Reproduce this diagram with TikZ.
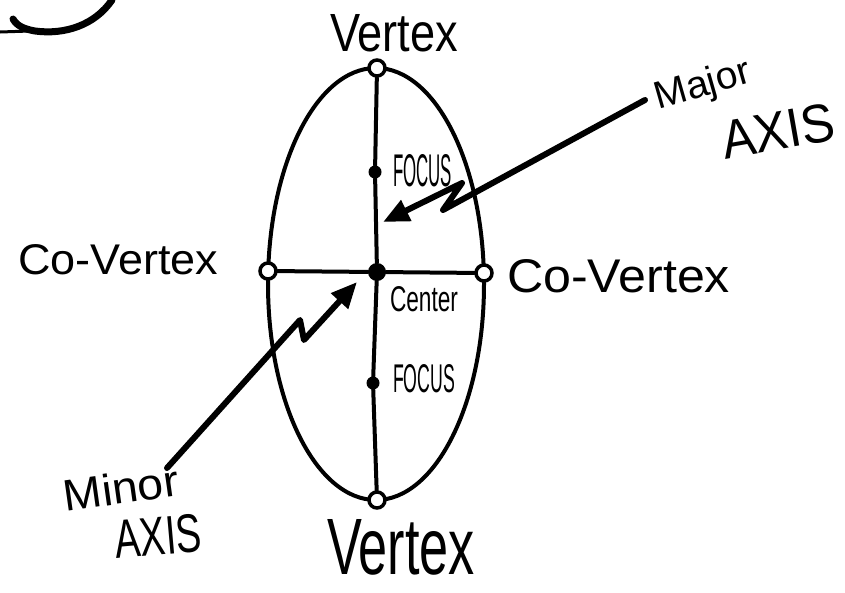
\documentclass[tikz,border=0pt]{standalone}
\usepackage{fontspec}
\setmainfont{Liberation Sans}
\usepackage{graphicx}
\usetikzlibrary{arrows.meta}
\newcommand{\hwt}[3]{\resizebox{#1pt}{#2pt}{#3}}
\begin{document}
\begin{tikzpicture}[x=1pt,y=-1pt,
  lbl/.style={inner sep=0pt, outer sep=0pt},
  ink/.style={line width=4pt, line cap=round, line join=round},
  pointer/.style={line width=6pt, line cap=round, line join=round, -{Triangle[length=26pt,width=22pt]}},
  vdot/.style={circle, draw, line width=3.5pt, fill=white, minimum size=16pt, inner sep=0pt},
  fdot/.style={circle, fill, minimum size=13pt, inner sep=0pt},
  cdot/.style={circle, fill, minimum size=18pt, inner sep=0pt}]
\useasboundingbox (0,0) rectangle (845,592);
% stray stroke top-left
\draw[line width=7pt, line cap=round] (13,19) .. controls (17,26) and (24,29) .. (35,31) .. controls (65,35) and (95,25) .. (112,0);
\draw[line width=3pt] (0,32) -- (30,31);
% ellipse
\draw[ink] (376,284) ellipse [x radius=108pt, y radius=216pt];
% points
\node[vdot] (vt) at (377,68) {};
\node[vdot] (vb) at (377,500) {};
\node[vdot] (cl) at (268,271) {};
\node[vdot] (cr) at (484,273) {};
\node[cdot] (c) at (377,272) {};
\node[fdot] (f1) at (375,172) {};
\node[fdot] (f2) at (373,383) {};
% axes
\draw[ink] (vt) -- (f1) -- (c) -- (f2) -- (vb);
\draw[ink] (cl) -- (c) -- (cr);
% labels
\node[lbl, anchor=south west] (tvt) at (330,52) {\hwt{128}{37}{Vertex}};
\node[lbl, anchor=south west] (tvb) at (327,575) {\hwt{148}{55}{Vertex}};
\node[lbl, anchor=south west] (tcl) at (18,275) {\hwt{200}{30}{Co-Vertex}};
\node[lbl, anchor=south west] (tcr) at (507,293) {\hwt{223}{33}{Co-Vertex}};
\node[lbl, anchor=south west] (tf1) at (393,187) {\hwt{59}{32}{FOCUS}};
\node[lbl, anchor=south west] (tf2) at (393,393) {\hwt{62}{28}{FOCUS}};
\node[lbl, anchor=south west] (tc) at (390,312) {\hwt{68}{25}{Center}};
\node[lbl, rotate=16] (tmaj) at (703,86) {\hwt{98}{28}{Major}};
\node[lbl, rotate=10] (tmaja) at (778,131) {\hwt{114}{38}{AXIS}};
\node[lbl, rotate=8] (tmin) at (121,488) {\hwt{116}{32}{Minor}};
\node[lbl, rotate=5] (tmina) at (158,536) {\hwt{87}{38}{AXIS}};
% pointer arrows
\coordinate (ma0) at (645,100);
\coordinate (ma1) at (443,210);
\coordinate (ma2) at (462,183);
\coordinate (mat) at (383,222);
\draw[pointer] (ma0) -- (ma1) -- (ma2) -- (mat);
\coordinate (mi0) at (167,468);
\coordinate (mi1) at (300,320);
\coordinate (mi2) at (304,340);
\coordinate (mit) at (357,282);
\draw[pointer] (mi0) -- (mi1) -- (mi2) -- (mit);
\end{tikzpicture}
\end{document}
